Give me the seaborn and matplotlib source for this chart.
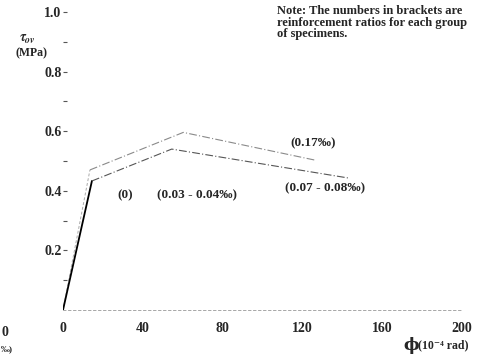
import numpy as np
import pandas as pd
import matplotlib
matplotlib.use("Agg")
import matplotlib.pyplot as plt
import seaborn as sns

upper_x = [0, 13.5, 60.3, 126.3]
upper_y = [0, 0.470, 0.596, 0.503]
lower_x = [0, 14.5, 54.5, 143.9]
lower_y = [0, 0.433, 0.540, 0.442]

labels = ["(0)", "(0.03 - 0.04‰)", "(0.17‰)", "(0.07 - 0.08‰)"]
label_x = [31.3, 67.4, 125.6, 131.3]
label_y = [0.386, 0.386, 0.560, 0.410]

xticks = [0, 40, 80, 120, 160, 200]
yticks = [0.2, 0.4, 0.6, 0.8, 1.0]
yminor = [0.1, 0.3, 0.5, 0.7, 0.9]

note = "Note: The numbers in brackets are\nreinforcement ratios for each group\nof specimens."

sns.set_theme(style="white")
plt.rcParams['font.family'] = ['Liberation Serif', 'DejaVu Serif']
plt.rcParams['font.weight'] = 'bold'
plt.rcParams['mathtext.fontset'] = 'stix'

up = pd.DataFrame({'x': upper_x, 'y': upper_y})
lo = pd.DataFrame({'x': lower_x, 'y': lower_y})

fig = plt.figure(figsize=(4.83, 3.58), dpi=100)
ax = fig.add_axes([63/483, 48/358, 399/483, 298/358])

# rising branch solid, the rest dash-dot
sns.lineplot(data=up.iloc[:2], x='x', y='y', sort=False, ax=ax, color='#aaaaaa', lw=0.7,
             linestyle=(0, (3, 2)))
sns.lineplot(data=lo.iloc[:2], x='x', y='y', sort=False, ax=ax, color='black', lw=1.3)
sns.lineplot(data=up.iloc[1:], x='x', y='y', sort=False, ax=ax, color='#8a8a8a', lw=0.8,
             linestyle=(0, (7, 2, 1, 2)))
sns.lineplot(data=lo.iloc[1:], x='x', y='y', sort=False, ax=ax, color='#555555', lw=0.8,
             linestyle=(0, (7, 2, 1, 2)))

for t, x, y in zip(labels, label_x, label_y):
    ax.text(x, y, t, ha='center', va='center', fontsize=9.5, fontweight='bold')

ax.set_xlim(0, 200)
ax.set_ylim(0, 1.0)
ax.set_xticks(xticks)
ax.set_xticklabels([str(v) for v in xticks])
ax.set_yticks(yticks)
ax.set_yticklabels([f"{v:.1f}" for v in yticks])
ax.set_yticks(yminor, minor=True)
ax.tick_params(axis='x', length=0, pad=9, labelsize=10)
ax.tick_params(axis='y', which='both', direction='in', length=3, width=0.8,
               color='#555555', pad=1, labelsize=10, left=True)
ax.set_xlabel('')
ax.set_ylabel('')
for s in ['top', 'right', 'left']:
    ax.spines[s].set_visible(False)
ax.spines['bottom'].set_color('#999999')
ax.spines['bottom'].set_linewidth(0.6)
ax.spines['bottom'].set_linestyle((0, (3, 3)))

fig.text(277/483, 1 - 5/358, note, ha='left', va='top', fontsize=9,
         fontweight='bold', linespacing=0.95)

fig.text(27/483, 1 - 39/358, r"$\tau_{ov}$", ha='center', va='center', fontsize=10)
fig.text(32/483, 1 - 53/358, "(MPa)", ha='center', va='center', fontsize=8.5, fontweight='bold')

fig.text(411/483, 1 - 345/358, "ϕ", ha='center', va='center', fontsize=12,
         family=['DejaVu Serif'])
fig.text(418/483, 1 - 345/358, "(10⁻⁴ rad)", ha='left', va='center', fontsize=8.5,
         fontweight='bold')

# edge of the neighbouring panel
fig.text(1/483, 1 - 333/358, "0", ha='left', va='center', fontsize=10, fontweight='bold')
fig.text(0.5/483, 1 - 349/358, "‰)", ha='left', va='center', fontsize=6.5, fontweight='bold')

fig.savefig("out.png", dpi=100)
